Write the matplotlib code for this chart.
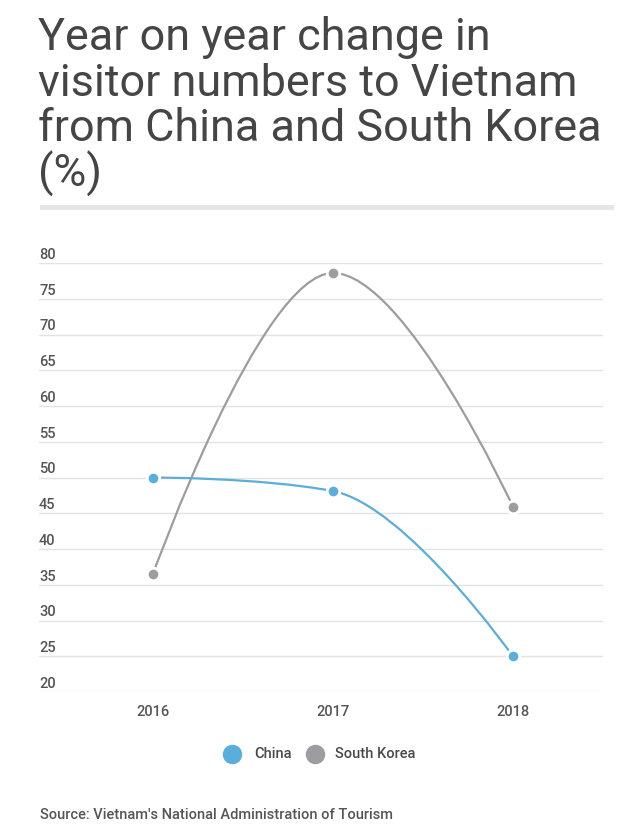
import numpy as np
import matplotlib.pyplot as plt
from matplotlib.path import Path
from matplotlib.patches import PathPatch
import matplotlib.transforms as mtransforms

# Data
years = ["2016", "2017", "2018"]
china = [50.0, 48.1, 25.0]
south_korea = [36.5, 78.6, 45.9]
y_ticks = [20, 25, 30, 35, 40, 45, 50, 55, 60, 65, 70, 75, 80]
title_lines = ["Year on year change in", "visitor numbers to Vietnam",
               "from China and South Korea", "(%)"]

china_color = "#5aaedb"
korea_color = "#9d9ca1"
text_color = "#4a4a4a"
grid_color = "#e3e3e3"

plt.rcParams["font.family"] = ["Roboto", "DejaVu Sans"]


def spline_path(xs, ys, smoothing=1.5):
    # Highcharts-style spline: cubic bezier segments through the points
    n = len(xs)
    left = [(xs[i], ys[i]) for i in range(n)]
    right = [(xs[i], ys[i]) for i in range(n)]
    d = smoothing + 1
    for i in range(1, n - 1):
        lx, ly = xs[i - 1], ys[i - 1]
        px, py = xs[i], ys[i]
        nx, ny = xs[i + 1], ys[i + 1]
        lcx = (smoothing * px + lx) / d
        lcy = (smoothing * py + ly) / d
        rcx = (smoothing * px + nx) / d
        rcy = (smoothing * py + ny) / d
        if rcx != lcx:
            corr = (rcy - lcy) * (rcx - px) / (rcx - lcx) + py - rcy
            lcy += corr
            rcy += corr
        if lcy > ly and lcy > py:
            lcy = max(ly, py)
            rcy = 2 * py - lcy
        elif lcy < ly and lcy < py:
            lcy = min(ly, py)
            rcy = 2 * py - lcy
        if rcy > ny and rcy > py:
            rcy = max(ny, py)
            lcy = 2 * py - rcy
        elif rcy < ny and rcy < py:
            rcy = min(ny, py)
            lcy = 2 * py - rcy
        left[i] = (lcx, lcy)
        right[i] = (rcx, rcy)
    verts = [(xs[0], ys[0])]
    codes = [Path.MOVETO]
    for i in range(1, n):
        verts += [right[i - 1], left[i], (xs[i], ys[i])]
        codes += [Path.CURVE4] * 3
    return Path(verts, codes)


fig = plt.figure(figsize=(6.4, 8.32), dpi=100)
ax = fig.add_axes([39 / 640, 1 - 692 / 832, 564 / 640, 429 / 832])

x = np.arange(len(years))
for vals, col in [(south_korea, korea_color), (china, china_color)]:
    ax.add_patch(PathPatch(spline_path(list(x), vals), facecolor="none",
                           edgecolor=col, lw=1.6, clip_on=False, zorder=3))
    ax.plot(x, vals, "o", color=col, ms=9, mec="white", mew=2,
            clip_on=False, zorder=4)

ax.set_xlim(-0.633, 2.5)
ax.set_ylim(20, 80)
for v in y_ticks:
    ax.axhline(v, color=grid_color, lw=1, zorder=1)

trans = mtransforms.blended_transform_factory(ax.transAxes, ax.transData)
for v in y_ticks:
    ax.text(0.0, v + 0.15, str(v), transform=trans, ha="left", va="bottom",
            fontsize=10.5, color="#555555", fontweight="medium")

ax.set_yticks([])
ax.set_xticks(x)
ax.set_xticklabels(years, fontsize=10.5, color="#555555", fontweight="medium")
ax.tick_params(axis="x", length=0, pad=9)
for s in ax.spines.values():
    s.set_visible(False)

# Title, one line at a time
for i, line in enumerate(title_lines):
    fig.text(38 / 640, 1 - (50 + 45.5 * i) / 832, line, ha="left", va="baseline",
             fontsize=32.4, color="#454545")

# separator bar
fig.add_artist(plt.Rectangle((40 / 640, 1 - 210 / 832), 574 / 640, 5 / 832,
                             transform=fig.transFigure, color="#e6e6e6", lw=0))

# legend
ly = 1 - 754 / 832
fig.add_artist(plt.Line2D([232 / 640], [ly], marker="o", ms=13, color=china_color,
                          transform=fig.transFigure, lw=0))
fig.text(254 / 640, ly, "China", ha="left", va="center", fontsize=10.5,
         color=text_color, fontweight="medium")
fig.add_artist(plt.Line2D([315 / 640], [ly], marker="o", ms=13, color=korea_color,
                          transform=fig.transFigure, lw=0))
fig.text(335 / 640, ly, "South Korea", ha="left", va="center", fontsize=10.5,
         color=text_color, fontweight="medium")

fig.text(40 / 640, 1 - 815 / 832, "Source: Vietnam's National Administration of Tourism",
         ha="left", va="center", fontsize=10.5, color="#555555", fontweight="medium")

fig.savefig("out.png", dpi=100, facecolor="white")
